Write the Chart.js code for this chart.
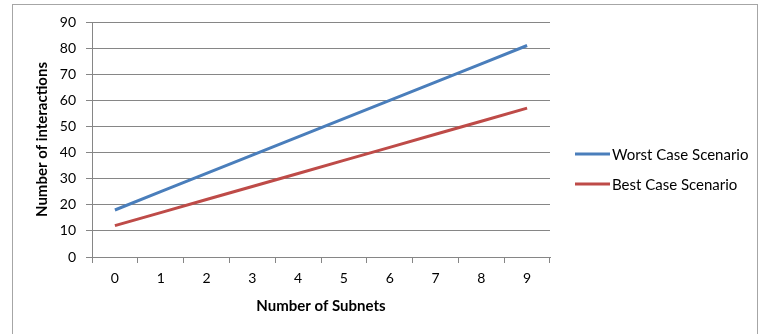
<!DOCTYPE html>
<html>
<head>
<meta charset="utf-8">
<script src="https://cdn.jsdelivr.net/npm/chart.js@4"></script>
<style>
  body { margin: 0; background: #fff; }
  #frame { position: absolute; left: 12px; top: 4px; width: 746px; height: 340px; border: 1px solid #a6a6a6; box-sizing: border-box; }
  #wrap { position: absolute; left: 0; top: 0; width: 760px; height: 334px; }
</style>
</head>
<body>
<div id="frame"></div>
<div id="wrap"><canvas id="lineChart" width="760" height="334"></canvas></div>
<script>
// ------- data --------------------------------
const subnets = ['0', '1', '2', '3', '4', '5', '6', '7', '8', '9'];
const worstCase = [18, 25, 32, 39, 46, 53, 60, 67, 74, 81];
const bestCase = [12, 17, 22, 27, 32, 37, 42, 47, 52, 57];
const seriesNames = ['Worst Case Scenario', 'Best Case Scenario'];

const fontName = 'Lato, "Open Sans", sans-serif';
const axisGray = '#868686';

// legend on the right, drawn like Excel's
const sideLegend = {
    id: 'sideLegend',
    afterDraw(chart) {
        const ctx = chart.ctx;
        const rows = [154, 184];
        ctx.save();
        ctx.font = '15px ' + fontName;
        ctx.textBaseline = 'middle';
        ctx.fillStyle = '#000';
        chart.data.datasets.forEach((ds, i) => {
            ctx.strokeStyle = ds.borderColor;
            ctx.lineWidth = 3;
            ctx.beginPath();
            ctx.moveTo(575, rows[i]);
            ctx.lineTo(610, rows[i]);
            ctx.stroke();
            ctx.fillText(ds.label, 612, rows[i] + 1);
        });
        ctx.restore();
    }
};

const chart = new Chart(document.getElementById('lineChart'), {
    type: 'line',
    data: {
        labels: subnets,
        datasets: [{
            label: seriesNames[0],
            data: worstCase,
            borderColor: '#4a7ebb',
            backgroundColor: '#4a7ebb',
            borderWidth: 3,
            pointRadius: 0,
            fill: false
        }, {
            label: seriesNames[1],
            data: bestCase,
            borderColor: '#be4b48',
            backgroundColor: '#be4b48',
            borderWidth: 3,
            pointRadius: 0,
            fill: false
        }]
    },
    options: {
        responsive: false,
        animation: false,
        layout: { padding: { left: 0, top: 22, right: 210, bottom: 0 } },
        plugins: { legend: { display: false }, tooltip: { enabled: false } },
        scales: {
            x: {
                offset: true,
                grid: { drawOnChartArea: false, drawTicks: true, tickLength: 6, color: axisGray, offset: true },
                border: { color: axisGray },
                ticks: { color: '#000', font: { family: fontName, size: 14 }, padding: 7, maxRotation: 0 },
                title: { display: true, text: 'Number of Subnets', color: '#000',
                         font: { family: fontName, size: 15, weight: 'bold' }, padding: { top: 0, bottom: 19 } },
                afterFit(scale) { scale.height = 77; }
            },
            y: {
                min: 0,
                max: 90,
                ticks: { stepSize: 10, color: '#000', font: { family: fontName, size: 14 }, padding: 10 },
                grid: { color: axisGray, tickLength: 6 },
                border: { color: axisGray },
                title: { display: true, text: 'Number of interactions', color: '#000',
                         font: { family: fontName, size: 15, weight: 'bold' }, padding: { top: 33, bottom: 0 } },
                afterFit(scale) { scale.width = 92; }
            }
        }
    },
    plugins: [sideLegend]
});
</script>
</body>
</html>
